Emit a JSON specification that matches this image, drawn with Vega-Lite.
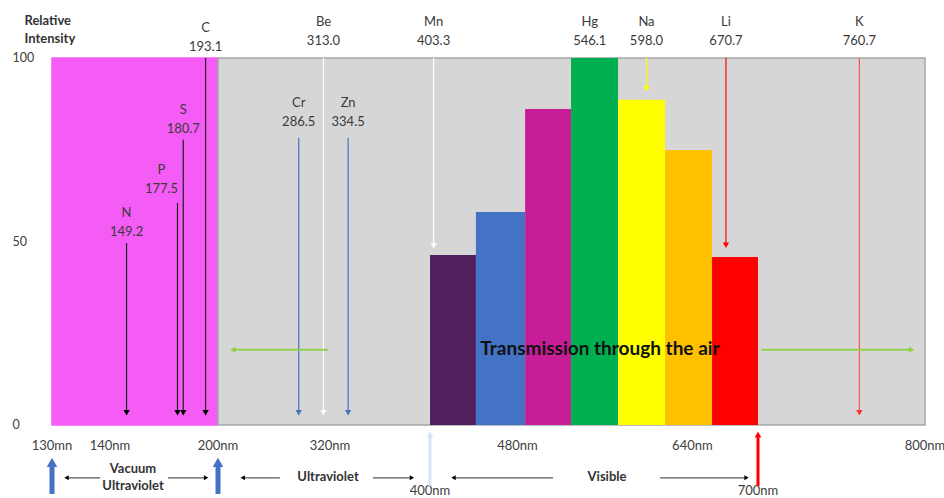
{
  "$schema": "https://vega.github.io/schema/vega-lite/v6.json",
  "width": 892,
  "height": 498,
  "autosize": {"type": "none"},
  "padding": {"left": 52, "top": 0, "right": 0, "bottom": 0},
  "background": "white",
  "config": {
    "font": "Lato",
    "view": {"stroke": null},
    "axisY": {"domain": false, "ticks": false, "tickSize": 0, "grid": false,
              "labelAlign": "left", "labelPadding": 40, "labelFontSize": 12.5, "labelColor": "#404040",
              "titleAngle": 0, "titleAlign": "left", "titleBaseline": "top",
              "titleX": -28, "titleY": 14, "titleFontSize": 13, "titleFontWeight": "bold", "titleColor": "#333333", "titleLineHeight": 18}
  },
  "datasets": {
    "regions": [
      {"region": "Vacuum UV", "start": 130, "end": 200},
      {"region": "Air", "start": 200, "end": 800}
    ],
    "bars": [
      {"band": "violet", "start": 400, "end": 442, "intensity": 46.3},
      {"band": "blue", "start": 442, "end": 487, "intensity": 58.0},
      {"band": "purple", "start": 487, "end": 529, "intensity": 86.1},
      {"band": "green", "start": 529, "end": 572, "intensity": 100},
      {"band": "yellow", "start": 572, "end": 615, "intensity": 88.6},
      {"band": "orange", "start": 615, "end": 658, "intensity": 74.9},
      {"band": "red", "start": 658, "end": 700, "intensity": 45.8}
    ],
    "elements": [
      {"el": "N", "wl": 149.2, "labelY": 57.8},
      {"el": "P", "wl": 177.5, "labelY": 69.5},
      {"el": "S", "wl": 180.7, "labelY": 85.8},
      {"el": "C", "wl": 193.1, "labelY": 108.2},
      {"el": "Cr", "wl": 286.5, "labelY": 87.7},
      {"el": "Be", "wl": 313.0, "labelY": 109.8},
      {"el": "Zn", "wl": 334.5, "labelY": 87.7},
      {"el": "Mn", "wl": 403.3, "labelY": 109.8},
      {"el": "Hg", "wl": 546.1, "labelY": 109.8},
      {"el": "Na", "wl": 598.0, "labelY": 109.8},
      {"el": "Li", "wl": 670.7, "labelY": 109.8},
      {"el": "K", "wl": 760.7, "labelY": 109.8}
    ],
    "lines": [
      {"el": "N", "wl": 149.2, "top": 49.6, "tip": 3.3},
      {"el": "P", "wl": 177.5, "top": 60.5, "tip": 3.3},
      {"el": "S", "wl": 180.7, "top": 77.7, "tip": 3.3},
      {"el": "C", "wl": 193.1, "top": 100, "tip": 3.3},
      {"el": "Cr", "wl": 286.5, "top": 78.2, "tip": 3.3},
      {"el": "Be", "wl": 313.0, "top": 100, "tip": 3.3},
      {"el": "Zn", "wl": 334.5, "top": 78.2, "tip": 3.3},
      {"el": "Mn", "wl": 403.3, "top": 100, "tip": 48.8},
      {"el": "Na", "wl": 598.0, "top": 100, "tip": 91.6},
      {"el": "Li", "wl": 670.7, "top": 100, "tip": 49.0},
      {"el": "K", "wl": 760.7, "top": 100, "tip": 3.3}
    ],
    "air": [
      {"dir": "left", "from": 318, "to": 216},
      {"dir": "right", "from": 702, "to": 792}
    ],
    "ticks": [
      {"wl": 130, "label": "130mn"},
      {"wl": 140, "label": "140nm"},
      {"wl": 200, "label": "200nm"},
      {"wl": 320, "label": "320nm"},
      {"wl": 480, "label": "480nm"},
      {"wl": 640, "label": "640nm"},
      {"wl": 800, "label": "800nm"}
    ],
    "lowerTicks": [
      {"wl": 400, "label": "400nm"},
      {"wl": 700, "label": "700nm"}
    ],
    "markers": [
      {"wl": 130, "kind": "vuv"},
      {"wl": 200, "kind": "vuv"},
      {"wl": 400, "kind": "violet"},
      {"wl": 700, "kind": "red"}
    ],
    "spans": [
      {"dir": "left", "from": 138.3, "to": 132.5},
      {"dir": "right", "from": 172.2, "to": 193.4},
      {"dir": "left", "from": 266.4, "to": 226.5},
      {"dir": "right", "from": 354.4, "to": 385.5},
      {"dir": "left", "from": 512.5, "to": 421.5},
      {"dir": "right", "from": 610.4, "to": 689.5}
    ],
    "bands": [
      {"name": "Vacuum\nUltraviolet", "wl": 152.8, "lines": 2},
      {"name": "Ultraviolet", "wl": 317.9, "lines": 1},
      {"name": "Visible", "wl": 561.9, "lines": 1}
    ]
  },
  "layer": [
    {
      "data": {"name": "regions"},
      "mark": {"type": "rect", "strokeWidth": 1.5},
      "encoding": {
        "x": {"field": "start", "type": "quantitative", "axis": null,
              "scale": {"domain": [130, 140, 200, 320, 400, 700, 800], "range": [0, 58, 166, 278, 378, 706, 873], "nice": false, "zero": false}},
        "x2": {"field": "end"},
        "y": {"datum": 0, "type": "quantitative", "axis": {"values": [0, 50, 100], "title": ["Relative", "Intensity"]},
              "scale": {"domain": [-19.9, 115.8], "nice": false, "zero": false}},
        "y2": {"datum": 100},
        "color": {"field": "region", "type": "nominal", "legend": null,
                  "scale": {"domain": ["Vacuum UV", "Air"], "range": ["#F55CF5", "#D6D6D6"]}},
        "stroke": {"field": "region", "type": "nominal", "legend": null,
                   "scale": {"domain": ["Vacuum UV", "Air"], "range": ["#F55CF5", "#A6A6A6"]}}
      }
    },
    {
      "data": {"name": "bars"},
      "mark": {"type": "rect"},
      "encoding": {
        "x": {"field": "start", "type": "quantitative", "axis": null},
        "x2": {"field": "end"},
        "y": {"field": "intensity", "type": "quantitative", "axis": {"values": [0, 50, 100], "title": ["Relative", "Intensity"]}},
        "y2": {"datum": 0},
        "color": {"field": "band", "type": "nominal", "legend": null,
                  "scale": {"domain": ["violet", "blue", "purple", "green", "yellow", "orange", "red"],
                            "range": ["#511F5D", "#4472C4", "#C71D97", "#00B050", "#FFFF00", "#FFC000", "#FF0000"]}}
      }
    },
    {
      "data": {"name": "lines"},
      "mark": {"type": "rule", "strokeWidth": 1.2},
      "encoding": {
        "x": {"field": "wl", "type": "quantitative", "axis": null},
        "y": {"field": "top", "type": "quantitative", "axis": {"values": [0, 50, 100], "title": ["Relative", "Intensity"]}},
        "y2": {"field": "tip"},
        "color": {"field": "el", "type": "nominal", "legend": null,
                  "scale": {"domain": ["N", "P", "S", "C", "Cr", "Be", "Zn", "Mn", "Na", "Li", "K"],
                            "range": ["#1F1F1F", "#1F1F1F", "#1F1F1F", "#2A1A2A", "#4472C4", "#FFFFFF", "#4472C4", "#FFFFFF", "#FFFF00", "#FF0000", "#FF5050"]}}
      }
    },
    {
      "data": {"name": "lines"},
      "mark": {"type": "point", "shape": "triangle-down", "filled": true, "opacity": 1, "size": 40},
      "encoding": {
        "x": {"field": "wl", "type": "quantitative", "axis": null},
        "y": {"field": "tip", "type": "quantitative", "axis": {"values": [0, 50, 100], "title": ["Relative", "Intensity"]}},
        "color": {"field": "el", "type": "nominal", "legend": null,
                  "scale": {"domain": ["N", "P", "S", "C", "Cr", "Be", "Zn", "Mn", "Na", "Li", "K"],
                            "range": ["#000000", "#000000", "#000000", "#000000", "#4472C4", "#FFFFFF", "#4472C4", "#FFFFFF", "#FFFF00", "#FF0000", "#FF3030"]}}
      }
    },
    {
      "data": {"name": "elements"},
      "transform": [{"filter": "datum.el !== 'P'"}],
      "mark": {"type": "text", "fontSize": 13, "color": "#3A3A3A", "baseline": "middle", "align": "center"},
      "encoding": {
        "x": {"field": "wl", "type": "quantitative", "axis": null},
        "y": {"field": "labelY", "type": "quantitative", "axis": {"values": [0, 50, 100], "title": ["Relative", "Intensity"]}},
        "text": {"field": "el"}
      }
    },
    {
      "data": {"name": "elements"},
      "transform": [{"filter": "datum.el !== 'P'"}],
      "mark": {"type": "text", "fontSize": 13, "color": "#3A3A3A", "baseline": "middle", "align": "center", "dy": 19},
      "encoding": {
        "x": {"field": "wl", "type": "quantitative", "axis": null},
        "y": {"field": "labelY", "type": "quantitative", "axis": {"values": [0, 50, 100], "title": ["Relative", "Intensity"]}},
        "text": {"field": "wl", "type": "quantitative", "format": ".1f"}
      }
    },
    {
      "data": {"name": "elements"},
      "transform": [{"filter": "datum.el === 'P'"}],
      "mark": {"type": "text", "fontSize": 13, "color": "#3A3A3A", "baseline": "middle", "align": "center", "dx": -16},
      "encoding": {
        "x": {"field": "wl", "type": "quantitative", "axis": null},
        "y": {"field": "labelY", "type": "quantitative", "axis": {"values": [0, 50, 100], "title": ["Relative", "Intensity"]}},
        "text": {"field": "el"}
      }
    },
    {
      "data": {"name": "elements"},
      "transform": [{"filter": "datum.el === 'P'"}],
      "mark": {"type": "text", "fontSize": 13, "color": "#3A3A3A", "baseline": "middle", "align": "center", "dx": -16, "dy": 19},
      "encoding": {
        "x": {"field": "wl", "type": "quantitative", "axis": null},
        "y": {"field": "labelY", "type": "quantitative", "axis": {"values": [0, 50, 100], "title": ["Relative", "Intensity"]}},
        "text": {"field": "wl", "type": "quantitative", "format": ".1f"}
      }
    },
    {
      "data": {"name": "air"},
      "mark": {"type": "rule", "strokeWidth": 2, "color": "#92D050"},
      "encoding": {
        "x": {"field": "from", "type": "quantitative", "axis": null},
        "x2": {"field": "to"},
        "y": {"datum": 20.5, "type": "quantitative", "axis": {"values": [0, 50, 100], "title": ["Relative", "Intensity"]}}
      }
    },
    {
      "data": {"name": "air"},
      "mark": {"type": "point", "filled": true, "opacity": 1, "size": 40, "color": "#92D050"},
      "encoding": {
        "x": {"field": "to", "type": "quantitative", "axis": null},
        "y": {"datum": 20.5, "type": "quantitative", "axis": {"values": [0, 50, 100], "title": ["Relative", "Intensity"]}},
        "shape": {"field": "dir", "type": "nominal", "legend": null,
                  "scale": {"domain": ["left", "right"], "range": ["triangle-left", "triangle-right"]}}
      }
    },
    {
      "data": {"values": [{"wl": 555.5, "text": "Transmission through the air"}]},
      "mark": {"type": "text", "fontSize": 19, "fontWeight": "bold", "color": "#111111", "baseline": "middle", "align": "center"},
      "encoding": {
        "x": {"field": "wl", "type": "quantitative", "axis": null},
        "y": {"datum": 20.7, "type": "quantitative", "axis": {"values": [0, 50, 100], "title": ["Relative", "Intensity"]}},
        "text": {"field": "text"}
      }
    },
    {
      "data": {"name": "ticks"},
      "mark": {"type": "text", "fontSize": 13, "color": "#404040", "baseline": "middle", "align": "center"},
      "encoding": {
        "x": {"field": "wl", "type": "quantitative", "axis": null},
        "y": {"datum": -5.6, "type": "quantitative", "axis": {"values": [0, 50, 100], "title": ["Relative", "Intensity"]}},
        "text": {"field": "label"}
      }
    },
    {
      "data": {"name": "lowerTicks"},
      "mark": {"type": "text", "fontSize": 13, "color": "#404040", "baseline": "middle", "align": "center"},
      "encoding": {
        "x": {"field": "wl", "type": "quantitative", "axis": null},
        "y": {"datum": -18.0, "type": "quantitative", "axis": {"values": [0, 50, 100], "title": ["Relative", "Intensity"]}},
        "text": {"field": "label"}
      }
    },
    {
      "data": {"name": "markers"},
      "transform": [{"filter": "datum.kind === 'vuv'"}],
      "mark": {"type": "rule", "strokeWidth": 5, "color": "#4472C4"},
      "encoding": {
        "x": {"field": "wl", "type": "quantitative", "axis": null},
        "y": {"datum": -18.8, "type": "quantitative", "axis": {"values": [0, 50, 100], "title": ["Relative", "Intensity"]}},
        "y2": {"datum": -10.2}
      }
    },
    {
      "data": {"name": "markers"},
      "transform": [{"filter": "datum.kind === 'vuv'"}],
      "mark": {"type": "point", "shape": "triangle-up", "filled": true, "opacity": 1, "size": 110, "color": "#4472C4"},
      "encoding": {
        "x": {"field": "wl", "type": "quantitative", "axis": null},
        "y": {"datum": -10.2, "type": "quantitative", "axis": {"values": [0, 50, 100], "title": ["Relative", "Intensity"]}}
      }
    },
    {
      "data": {"name": "markers"},
      "transform": [{"filter": "datum.kind !== 'vuv'"}],
      "mark": {"type": "rule", "strokeWidth": 3},
      "encoding": {
        "x": {"field": "wl", "type": "quantitative", "axis": null},
        "y": {"datum": -16.6, "type": "quantitative", "axis": {"values": [0, 50, 100], "title": ["Relative", "Intensity"]}},
        "y2": {"datum": -3.0},
        "color": {"field": "kind", "type": "nominal", "legend": null,
                  "scale": {"domain": ["violet", "red"], "range": ["#DAE3F3", "#FF0000"]}}
      }
    },
    {
      "data": {"name": "markers"},
      "transform": [{"filter": "datum.kind !== 'vuv'"}],
      "mark": {"type": "point", "shape": "triangle-up", "filled": true, "opacity": 1, "size": 45},
      "encoding": {
        "x": {"field": "wl", "type": "quantitative", "axis": null},
        "y": {"datum": -2.6, "type": "quantitative", "axis": {"values": [0, 50, 100], "title": ["Relative", "Intensity"]}},
        "color": {"field": "kind", "type": "nominal", "legend": null,
                  "scale": {"domain": ["violet", "red"], "range": ["#DAE3F3", "#FF0000"]}}
      }
    },
    {
      "data": {"name": "spans"},
      "mark": {"type": "rule", "strokeWidth": 1.2, "color": "#595959"},
      "encoding": {
        "x": {"field": "from", "type": "quantitative", "axis": null},
        "x2": {"field": "to"},
        "y": {"datum": -14.4, "type": "quantitative", "axis": {"values": [0, 50, 100], "title": ["Relative", "Intensity"]}}
      }
    },
    {
      "data": {"name": "spans"},
      "mark": {"type": "point", "filled": true, "opacity": 1, "size": 25, "color": "#000000"},
      "encoding": {
        "x": {"field": "to", "type": "quantitative", "axis": null},
        "y": {"datum": -14.4, "type": "quantitative", "axis": {"values": [0, 50, 100], "title": ["Relative", "Intensity"]}},
        "shape": {"field": "dir", "type": "nominal", "legend": null,
                  "scale": {"domain": ["left", "right"], "range": ["triangle-left", "triangle-right"]}}
      }
    },
    {
      "data": {"name": "bands"},
      "transform": [{"filter": "datum.lines === 1"}],
      "mark": {"type": "text", "fontSize": 13, "fontWeight": "bold", "color": "#333333", "baseline": "middle", "align": "center"},
      "encoding": {
        "x": {"field": "wl", "type": "quantitative", "axis": null},
        "y": {"datum": -14.3, "type": "quantitative", "axis": {"values": [0, 50, 100], "title": ["Relative", "Intensity"]}},
        "text": {"field": "name"}
      }
    },
    {
      "data": {"name": "bands"},
      "transform": [{"filter": "datum.lines === 2"}],
      "mark": {"type": "text", "fontSize": 13, "fontWeight": "bold", "color": "#333333", "baseline": "middle", "align": "center", "lineBreak": "\n", "lineHeight": 17},
      "encoding": {
        "x": {"field": "wl", "type": "quantitative", "axis": null},
        "y": {"datum": -12.0, "type": "quantitative", "axis": {"values": [0, 50, 100], "title": ["Relative", "Intensity"]}},
        "text": {"field": "name"}
      }
    }
  ],
  "resolve": {"scale": {"color": "independent", "shape": "independent"}}
}
